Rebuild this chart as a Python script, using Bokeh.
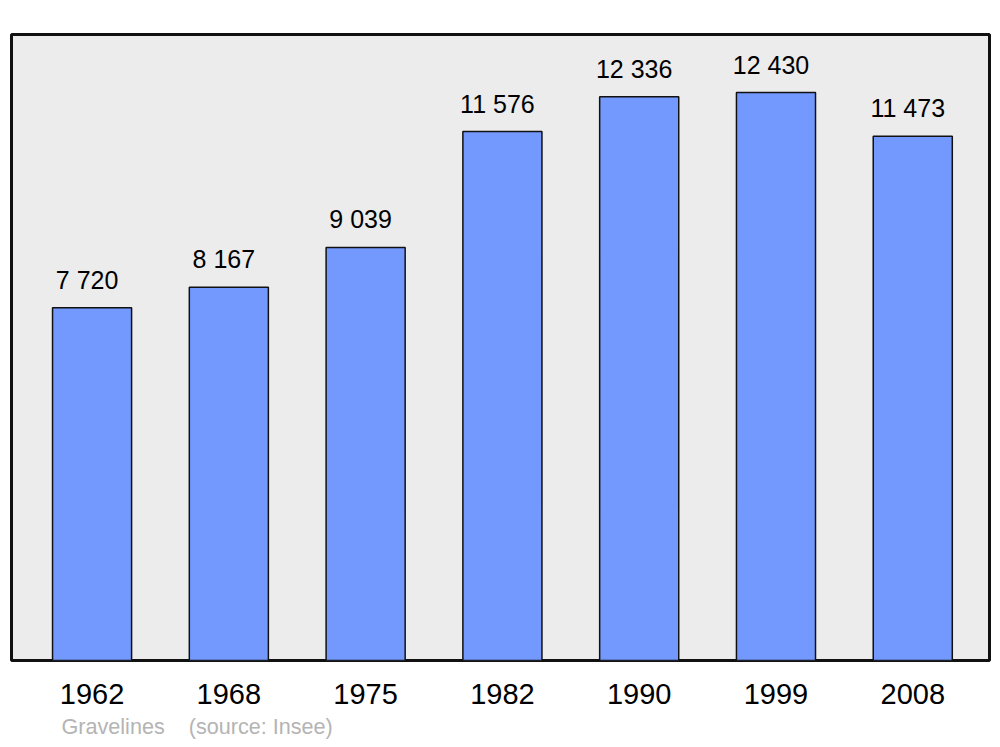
from bokeh.plotting import figure
from bokeh.models import Range1d, FixedTicker, Title, ColumnDataSource
from bokeh.core.properties import value
from bokeh.embed import file_html
from bokeh.resources import INLINE

years = ["1962", "1968", "1975", "1982", "1990", "1999", "2008"]
population = [7720, 8167, 9039, 11576, 12336, 12430, 11473]
town = "Gravelines"
source_note = "(source: Insee)"

FONT = "Liberation Sans"
idx = list(range(len(years)))
labels = [f"{v:,}".replace(",", " ") for v in population]
src = ColumnDataSource(dict(x=idx, y=population, lab=labels))

p = figure(width=992, height=747, output_backend="svg", toolbar_location=None,
           x_range=Range1d(-0.589, 6.561), y_range=Range1d(0, 13700),
           min_border_left=11, min_border_right=3, min_border_top=34, min_border_bottom=87)
p.background_fill_color = "#ececec"
p.border_fill_color = "white"
p.outline_line_color = "#111111"
p.outline_line_width = 3
p.xgrid.visible = False
p.ygrid.visible = False
p.yaxis.visible = False

p.vbar(x="x", top="y", bottom=0, width=0.578, source=src,
       fill_color="#7399ff", line_color="#111111", line_width=1.5)

p.text(x="x", y="y", text="lab", source=src, x_offset=-5, y_offset=-28,
       text_align="center", text_baseline="alphabetic",
       text_font=value(FONT), text_font_size="25px", text_color="black")

ax = p.xaxis[0]
ax.ticker = FixedTicker(ticks=idx)
ax.major_label_overrides = {i: y for i, y in zip(idx, years)}
ax.axis_line_color = None
ax.major_tick_line_color = None
ax.minor_tick_line_color = None
ax.major_label_text_font = FONT
ax.major_label_text_font_size = "29px"
ax.major_label_text_color = "black"
ax.major_label_standoff = 17

note = Title(text=town + "\u00a0\u00a0\u00a0\u00a0" + source_note, align="left", offset=50,
             text_font=FONT, text_font_size="21.6px", text_font_style="normal",
             text_color="#b4b4b4", standoff=10)
p.add_layout(note, "below")

open("out.html", "w").write(file_html(p, INLINE))
